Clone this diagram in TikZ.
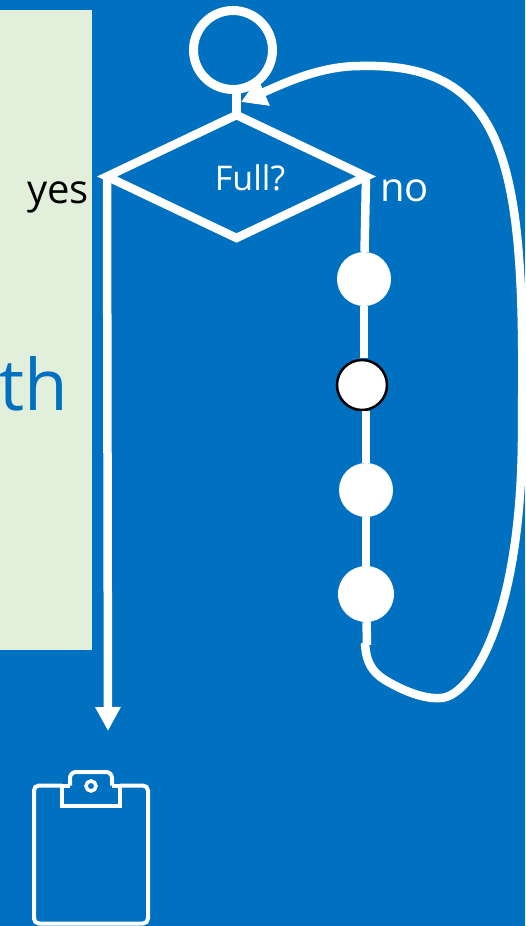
\documentclass[tikz,border=0pt]{standalone}
\usepackage{fontspec}
\setmainfont{Open Sans}
\usepackage{tikz}
\usetikzlibrary{arrows.meta,shapes.geometric}
\definecolor{bgblue}{HTML}{0070C0}
\definecolor{panelgreen}{HTML}{E2EFDA}

\begin{document}
\begin{tikzpicture}[x=1pt,y=-1pt,
  flow/.style={draw=white,line width=8.5pt},
  dot/.style={circle,fill=white,inner sep=0pt},
  label/.style={inner sep=0pt,anchor=base west}]
  \useasboundingbox (0,0) rectangle (525,926);
  \fill[bgblue] (0,0) rectangle (525,926);
  \fill[panelgreen] (0,10) rectangle (92,650);
  \node[label,text=bgblue,font=\fontsize{71}{71}\selectfont] (th) at (-1,410) {th};
  % flow chart
  \coordinate (loopstart) at (367,645);
  \coordinate (report) at (108,731);
  \coordinate (back) at (241,102);
  \coordinate (d2top) at (364,358);
  \coordinate (d2bottom) at (366,411);
  \node[circle,draw=white,line width=9pt,minimum size=79pt,inner sep=0pt,outer sep=0pt] (start) at (233,50) {};
  \node[diamond,draw=white,line width=8.5pt,minimum width=259pt,minimum height=123pt,aspect=2.1,inner sep=0pt,outer sep=0pt] (full) at (236.5,176.5) {};
  \draw[flow] (start.south -| full.north) -- (full.north);
  \draw[flow,-{Triangle[length=24pt,width=24pt]}] (full.west) -- (report);
  \node[dot,minimum size=54pt] (d1) at (364,279) {};
  \node[dot,draw=black,line width=2.5pt,minimum size=50pt] (d2) at (362,385) {};
  \node[dot,minimum size=54pt] (d3) at (366,490) {};
  \node[dot,minimum size=56pt] (d4) at (366,594) {};
  \draw[flow] (full.east) -- (d1);
  \draw[flow] (d1) -- (d2top);
  \draw[flow] (d2bottom) -- (d3);
  \draw[flow] (d3) -- (d4);
  \draw[flow] (d4) -- (loopstart);
  \draw[flow,-{Triangle[length=25pt,width=28pt]}] (365,643)
    .. controls (366,662) and (372,672) .. (385,680)
    .. controls (405,692) and (425,699) .. (440,698)
    .. controls (470,698) and (524,620) .. (522,420)
    .. controls (525,170) and (510,62) .. (360,66)
    .. controls (320,66) and (285,83) .. (back);
  \node[text=white,font=\fontsize{34}{34}\selectfont,inner sep=0pt] (fulltext) at (250,178) {Full?};
  \node[label,font=\fontsize{40}{40}\selectfont] (yes) at (27,203) {yes};
  \node[label,text=white,font=\fontsize{40}{40}\selectfont] (no) at (380,201) {no};
  % clipboard
  \draw[white,line width=4pt,rounded corners=5pt] (62,785.5) -- (34,785.5) -- (34,923.5) -- (148,923.5) -- (148,785.5) -- (120,785.5);
  \draw[white,line width=4pt,rounded corners=6pt] (70,785.5) -- (70,772) -- (112,772) -- (112,785.5);
  \draw[white,line width=4pt] (70,785.5) -- (62,785.5) -- (62,805.5) -- (119.5,805.5) -- (119.5,785.5) -- (112,785.5);
  \draw[white,line width=3.5pt] (91,786) circle (5pt);
\end{tikzpicture}
\end{document}
